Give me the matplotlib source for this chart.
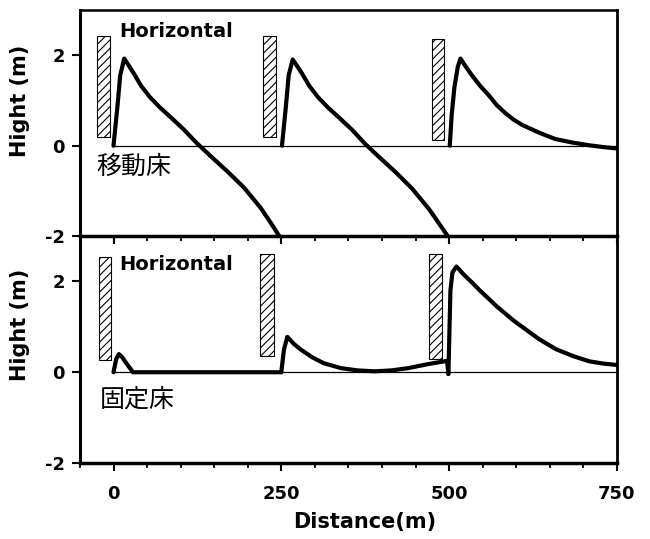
import numpy as np
import matplotlib.pyplot as plt
from matplotlib.patches import Rectangle

plt.rcParams['font.family'] = ['DejaVu Sans']
plt.rcParams['hatch.linewidth'] = 0.8

# 移動床 (top panel): three wave profiles
top_x1 = [0, 6, 10, 16, 29, 41, 54, 69, 86, 104, 124, 144, 169, 194, 219, 234, 247]
top_y1 = [0, 0.89, 1.56, 1.93, 1.63, 1.33, 1.08, 0.85, 0.62, 0.37, 0.06, -0.22, -0.56, -0.92, -1.37, -1.7, -2.0]
top_x2 = [251, 257, 261, 267, 280, 292, 305, 320, 337, 355, 375, 395, 420, 445, 470, 485, 498]
top_y2 = [0, 0.89, 1.56, 1.91, 1.62, 1.32, 1.07, 0.84, 0.61, 0.36, 0.04, -0.24, -0.58, -0.95, -1.4, -1.72, -2.0]
top_x3 = [501, 504, 508, 513, 517, 525, 534, 546, 559, 571, 584, 596, 609, 634, 658, 684, 709, 730, 750]
top_y3 = [0, 0.7, 1.3, 1.75, 1.93, 1.75, 1.56, 1.33, 1.12, 0.9, 0.72, 0.58, 0.46, 0.29, 0.15, 0.07, 0.01, -0.03, -0.06]

# 固定床 (bottom panel)
bot_x1 = [0, 4, 8, 13, 19, 29, 250]
bot_y1 = [0, 0.29, 0.4, 0.33, 0.2, 0, 0]
bot_x2 = [250, 254, 259, 269, 279, 296, 313, 339, 364, 389, 414, 439, 469, 497, 499]
bot_y2 = [0, 0.5, 0.78, 0.62, 0.5, 0.33, 0.2, 0.09, 0.04, 0.02, 0.04, 0.09, 0.18, 0.25, -0.04]
bot_x3 = [499, 502, 505, 511, 522, 534, 546, 559, 571, 584, 596, 609, 634, 659, 684, 709, 730, 750]
bot_y3 = [-0.04, 1.8, 2.2, 2.33, 2.15, 1.98, 1.8, 1.62, 1.45, 1.29, 1.14, 1.0, 0.73, 0.51, 0.36, 0.24, 0.19, 0.16]

# walls (hatched blocks)
top_wall_left = [-24, 223, 474]
top_wall_width = [19, 19, 19]
top_wall_bottom = [0.2, 0.2, 0.12]
top_wall_top = [2.42, 2.42, 2.37]
bot_wall_left = [-22, 219, 470]
bot_wall_width = [19, 20, 20]
bot_wall_bottom = [0.28, 0.36, 0.3]
bot_wall_top = [2.53, 2.6, 2.6]

x_major = [0, 250, 500, 750]
x_labels = ['0', '250', '500', '750']
y_major = [-2, 0, 2]
y_labels = ['-2', '0', '2']

fig = plt.figure(figsize=(6.5, 5.39), dpi=100)
ax1 = fig.add_axes([0.123, 0.562, 0.826, 0.419])
ax2 = fig.add_axes([0.123, 0.141, 0.826, 0.421])
ax1.set_zorder(2)

panels = [
    (ax1, [(top_x1, top_y1), (top_x2, top_y2), (top_x3, top_y3)],
     top_wall_left, top_wall_width, top_wall_bottom, top_wall_top),
    (ax2, [(bot_x1, bot_y1), (bot_x2, bot_y2), (bot_x3, bot_y3)],
     bot_wall_left, bot_wall_width, bot_wall_bottom, bot_wall_top),
]

for ax, curves, wl, ww, wb, wt in panels:
    ax.set_facecolor('none')
    ax.set_xlim(-50, 750)
    ax.set_ylim(-2, 3)
    ax.plot([0, 750], [0, 0], color='black', lw=0.9)
    for x, y in curves:
        ax.plot(x, y, color='black', lw=3, solid_capstyle='round', solid_joinstyle='round')
    for l, w, b, t in zip(wl, ww, wb, wt):
        ax.add_patch(Rectangle((l, b), w, t - b, facecolor='white', edgecolor='black',
                               lw=0.8, hatch='////'))
    ax.set_yticks(y_major)
    ax.set_yticklabels(y_labels, fontsize=13, fontweight='bold')
    ax.set_xticks(x_major)
    ax.set_xticks(np.arange(-50, 751, 50), minor=True)
    ax.tick_params(axis='y', direction='out', length=6, width=1.5, pad=5)
    ax.tick_params(axis='x', which='major', direction='out', length=6, width=1.5)
    ax.tick_params(axis='x', which='minor', direction='out', length=3.5, width=1.3)
    ax.spines['left'].set_linewidth(2.2)
    ax.spines['bottom'].set_linewidth(2.5)
    ax.spines['top'].set_linewidth(1.8)
    ax.spines['right'].set_linewidth(2.0)
    ax.set_ylabel('Hight (m)', fontsize=15, fontweight='bold')

ax1.tick_params(axis='x', labelbottom=False)
ax2.spines['top'].set_visible(False)
ax2.set_xticklabels(x_labels, fontsize=13, fontweight='bold')
ax2.tick_params(axis='x', which='major', pad=10)
ax2.set_xlabel('Distance(m)', fontsize=15, fontweight='bold')
ax2.xaxis.set_label_coords(0.53, -0.215)

ax1.yaxis.set_label_coords(-0.093, 0.6)
ax2.yaxis.set_label_coords(-0.093, 0.61)

ax1.text(9, 2.52, 'Horizontal', fontsize=14, fontweight='bold', va='center')
ax2.text(9, 2.38, 'Horizontal', fontsize=14, fontweight='bold', va='center')
ax1.text(-26, -0.46, '移動床', fontsize=18, family=['Noto Sans CJK JP', 'DejaVu Sans'], va='center')
ax2.text(-20, -0.6, '固定床', fontsize=18, family=['Noto Sans CJK JP', 'DejaVu Sans'], va='center')

fig.savefig('out.png', dpi=100)
